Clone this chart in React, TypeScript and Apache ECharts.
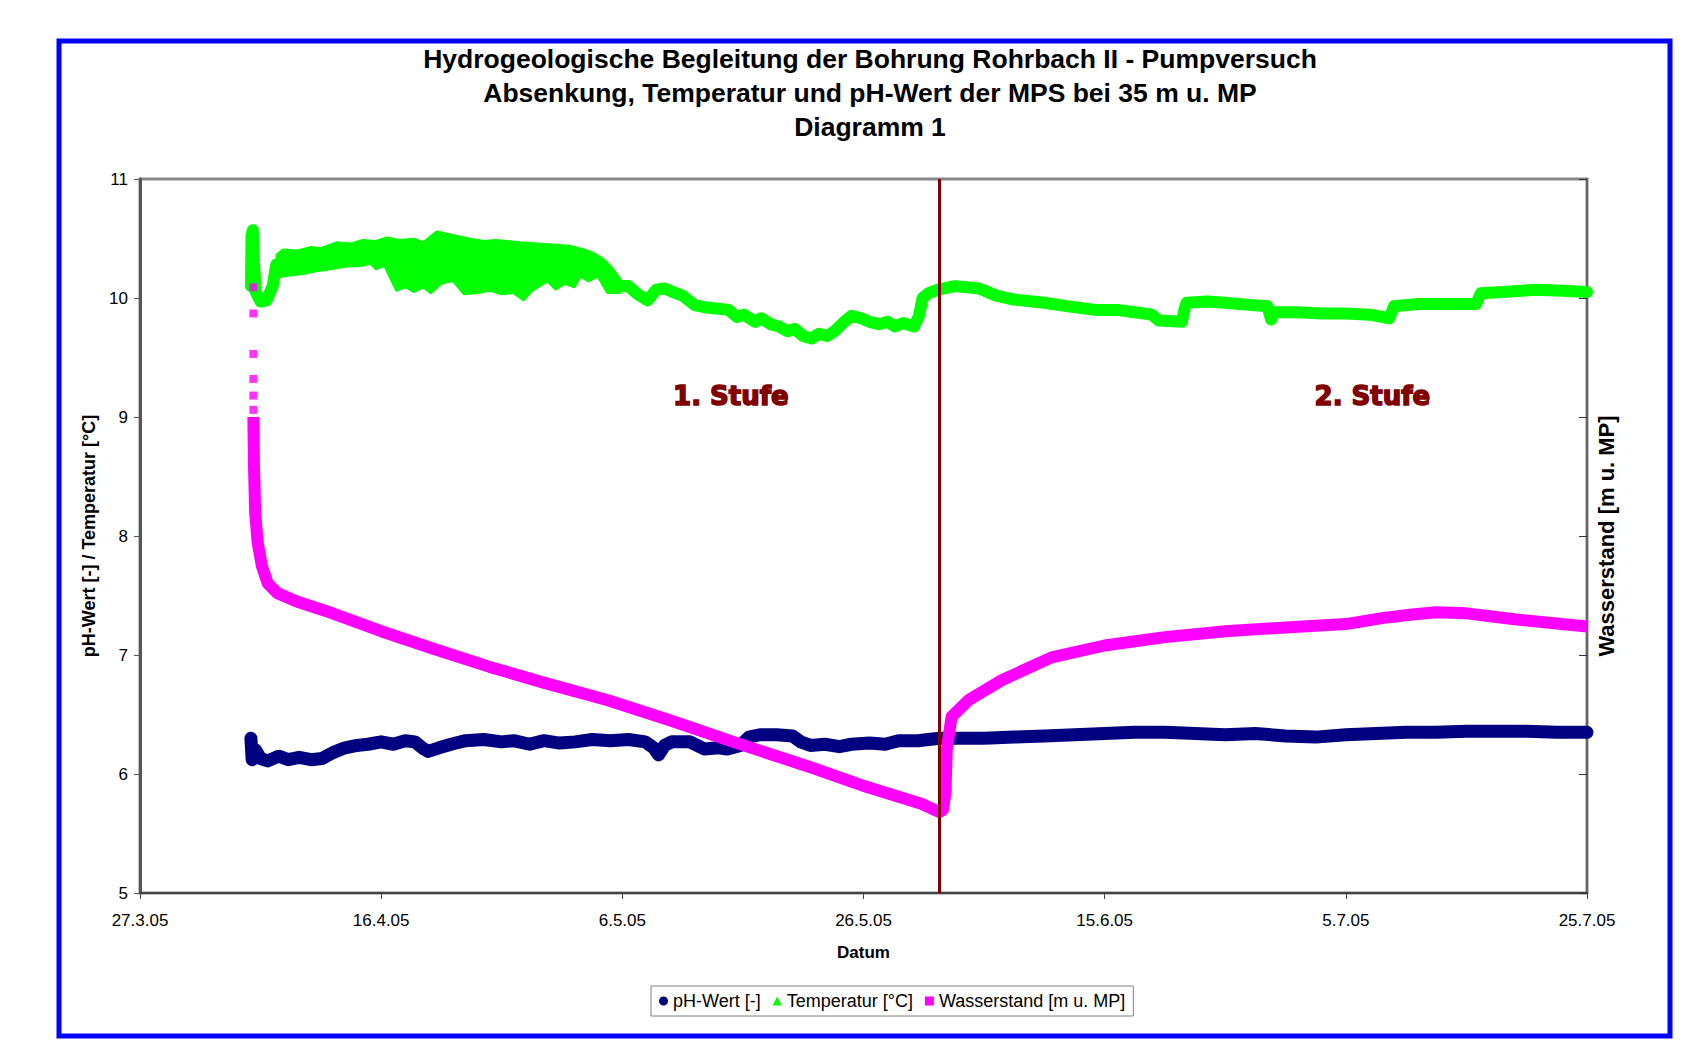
import React, { useEffect, useRef } from "react";
import * as echarts from "echarts";

// x values are days after 27.3.05
const xTickLabels = ["27.3.05", "16.4.05", "6.5.05", "26.5.05", "15.6.05", "5.7.05", "25.7.05"];

const phData: [number, number][] = [
  [9.2, 6.3], [9.3, 6.12], [9.6, 6.2], [10.0, 6.13], [10.6, 6.11], [11.5, 6.15], [12.3, 6.12],
  [13.2, 6.14], [14.2, 6.12], [15.1, 6.13], [16.0, 6.18], [17.0, 6.22], [18.0, 6.24], [18.9, 6.25],
  [20.0, 6.27], [21.0, 6.25], [22.0, 6.28], [22.8, 6.27], [23.4, 6.22], [23.9, 6.19], [24.8, 6.22],
  [25.8, 6.25], [27.0, 6.28], [28.5, 6.29], [30.0, 6.27], [31.0, 6.28], [32.3, 6.25], [33.5, 6.28],
  [34.8, 6.26], [36.1, 6.27], [37.5, 6.29], [39.0, 6.28], [40.5, 6.29], [41.9, 6.27], [42.6, 6.22],
  [43.0, 6.16], [43.5, 6.24], [44.1, 6.27], [45.6, 6.27], [46.2, 6.24], [46.8, 6.21], [48.0, 6.22],
  [48.7, 6.21], [49.8, 6.24], [50.5, 6.31], [51.4, 6.33], [52.8, 6.33], [54.1, 6.32], [54.8, 6.27],
  [55.6, 6.24], [56.8, 6.25], [58.0, 6.23], [59.0, 6.25], [60.5, 6.26], [61.8, 6.25], [62.9, 6.28],
  [64.5, 6.28], [66.3, 6.3], [68.0, 6.3], [70.0, 6.3], [72.5, 6.31], [75.0, 6.32], [77.5, 6.33],
  [80.0, 6.34], [82.5, 6.35], [85.0, 6.35], [87.5, 6.34], [90.0, 6.33], [92.5, 6.34], [95.0, 6.32],
  [97.5, 6.31], [100.0, 6.33], [102.5, 6.34], [105.0, 6.35], [107.5, 6.35], [110.0, 6.36],
  [112.5, 6.36], [115.0, 6.36], [117.5, 6.35], [120.0, 6.35],
];

const tempData: [number, number][] = [
  [9.2, 10.1], [9.25, 10.52], [9.35, 10.57], [9.45, 10.3], [9.6, 10.05], [10.0, 9.97], [10.5, 9.98],
  [11.0, 10.1], [11.3, 10.28], [11.9, 10.29], [16.3, 10.35], [20.5, 10.39], [24.6, 10.3], [27.4, 10.27],
  [31.5, 10.25], [35.7, 10.28], [38.4, 10.22], [39.5, 10.1], [40.5, 10.1], [41.3, 10.03],
  [42.1, 9.98], [42.8, 10.07], [43.5, 10.08], [44.2, 10.05], [45.0, 10.02], [46.0, 9.94], [47.0, 9.92],
  [48.0, 9.91], [48.8, 9.9], [49.5, 9.84], [50.1, 9.86], [51.0, 9.8], [51.5, 9.83], [52.3, 9.78],
  [53.0, 9.76], [53.7, 9.72], [54.3, 9.74], [55.0, 9.68], [55.7, 9.66], [56.3, 9.7], [57.0, 9.68],
  [57.6, 9.72], [58.4, 9.8], [59.0, 9.85], [59.8, 9.83], [60.5, 9.8], [61.3, 9.78], [62.0, 9.8],
  [62.6, 9.76], [63.3, 9.79], [64.2, 9.76], [64.6, 9.85], [64.9, 10.0], [65.4, 10.04], [66.2, 10.07],
  [67.6, 10.1], [69.6, 10.08], [71.0, 10.02], [72.3, 9.99], [74.0, 9.97], [75.0, 9.96], [77.0, 9.93],
  [79.2, 9.9], [81.0, 9.9], [82.5, 9.88], [83.9, 9.86], [84.5, 9.81], [86.4, 9.8], [86.6, 9.9],
  [86.8, 9.96], [88.5, 9.97], [90.0, 9.96], [92.2, 9.94], [93.5, 9.93], [93.8, 9.82], [94.1, 9.88],
  [96.0, 9.88], [98.0, 9.87], [100.0, 9.87], [102.0, 9.86], [103.6, 9.83], [104.0, 9.93], [106.0, 9.95],
  [108.0, 9.95], [110.8, 9.95], [111.2, 10.04], [113.0, 10.05], [115.8, 10.07], [118.0, 10.06], [120.0, 10.05],
];

// scatter band of the temperature readings in the first weeks (upper / lower edge)
const tempBandUpper: [number, number][] = [
  [11.4, 10.36], [11.9, 10.40], [13.0, 10.39], [14.2, 10.42], [15.0, 10.41], [16.3, 10.46], [17.5, 10.45],
  [18.5, 10.48], [19.5, 10.47], [20.5, 10.5], [21.5, 10.48], [22.7, 10.49], [23.5, 10.46], [24.6, 10.55],
  [26.0, 10.52], [27.4, 10.49], [28.5, 10.47], [29.5, 10.48], [31.5, 10.46], [33.0, 10.45], [34.5, 10.44],
  [35.7, 10.43], [36.8, 10.4], [37.6, 10.37], [38.4, 10.32], [39.0, 10.26], [39.8, 10.15],
];
const tempBandLower: [number, number][] = [
  [11.4, 10.18], [12.5, 10.2], [13.5, 10.21], [14.5, 10.23], [15.8, 10.25], [17.0, 10.27], [18.5, 10.28],
  [19.1, 10.3], [19.6, 10.25], [20.3, 10.28], [21.3, 10.07], [22.0, 10.1], [22.7, 10.06], [23.5, 10.1],
  [24.1, 10.05], [25.0, 10.13], [26.0, 10.15], [26.9, 10.04], [28.0, 10.05], [29.0, 10.07], [30.0, 10.04],
  [31.0, 10.05], [31.8, 9.99], [32.4, 10.06], [33.8, 10.15], [34.5, 10.08], [35.2, 10.13], [36.0, 10.1],
  [36.5, 10.19], [37.2, 10.15], [38.0, 10.19], [38.8, 10.05], [39.8, 10.05],
];

const levelStartPoints: [number, number][] = [
  [9.4, 10.09], [9.4, 9.87], [9.4, 9.53], [9.4, 9.32], [9.4, 9.18], [9.4, 9.06],
];

const levelData: [number, number][] = [
  [9.4, 9.0], [9.45, 8.6], [9.55, 8.2], [9.75, 7.95], [10.1, 7.75], [10.6, 7.6], [11.4, 7.52],
  [13.0, 7.45], [15.4, 7.37], [20.0, 7.2], [24.4, 7.05], [29.0, 6.9], [33.4, 6.77], [38.8, 6.62],
  [44.0, 6.45], [49.2, 6.27], [55.8, 6.05], [60.3, 5.89], [64.8, 5.75], [66.3, 5.68], [66.6, 5.7],
  [66.8, 5.85], [66.9, 6.2], [67.3, 6.48], [68.7, 6.62], [71.5, 6.79], [75.6, 6.98], [80.0, 7.08],
  [85.0, 7.15], [90.0, 7.2], [96.4, 7.24], [100.0, 7.26], [103.0, 7.31], [105.5, 7.34], [107.5, 7.36],
  [110.0, 7.35], [114.0, 7.3], [120.0, 7.24],
];

const stageChangeDay = 66.3;
const stageLabels: { text: string; coord: [number, number] }[] = [
  { text: "1. Stufe", coord: [49.0, 9.18] },
  { text: "2. Stufe", coord: [102.2, 9.18] },
];

const FONT = "'Liberation Sans', Arial, sans-serif";

export default function App() {
  const ref = useRef<HTMLDivElement>(null);
  useEffect(() => {
    document.body.style.margin = "0";
    if (!ref.current) return;
    const chart = echarts.init(ref.current, undefined, { renderer: "svg" });
    const lineBase = {
      type: "line" as const,
      showSymbol: false,
      symbol: "none",
      silent: true,
    };
    const bandPolygon: [number, number][] = [...tempBandUpper, ...tempBandLower.slice().reverse()];
    chart.setOption({
      animation: false,
      backgroundColor: "#ffffff",
      textStyle: { fontFamily: FONT },
      title: {
        text: "Hydrogeologische Begleitung der Bohrung Rohrbach II - Pumpversuch\nAbsenkung, Temperatur und pH-Wert der MPS bei 35 m u. MP\nDiagramm 1",
        left: 865,
        top: 37,
        textAlign: "center",
        textStyle: { fontSize: 26.5, fontWeight: "bold", color: "#000", lineHeight: 34, fontFamily: FONT },
      },
      legend: {
        left: 651,
        top: 986,
        orient: "horizontal",
        borderColor: "#808080",
        borderWidth: 1,
        padding: [6, 8],
        itemGap: 12,
        itemWidth: 9,
        itemHeight: 9,
        textStyle: { fontSize: 18, color: "#000", fontFamily: FONT },
        data: [
          { name: "pH-Wert [-]", icon: "circle" },
          { name: "Temperatur [°C]", icon: "triangle" },
          { name: "Wasserstand [m u. MP]", icon: "rect" },
        ],
      },
      grid: {
        left: 140,
        right: 112,
        top: 179,
        bottom: 151,
        show: true,
        borderColor: "#888",
        borderWidth: 3,
        backgroundColor: "#fff",
      },
      xAxis: {
        type: "value",
        min: 0,
        max: 120,
        interval: 20,
        name: "Datum",
        nameLocation: "middle",
        nameGap: 51,
        nameTextStyle: { fontSize: 17, fontWeight: "bold", color: "#000" },
        axisLine: { lineStyle: { color: "#444", width: 2 } },
        axisTick: { show: true, length: 6, lineStyle: { color: "#444" } },
        axisLabel: {
          fontSize: 17,
          color: "#000",
          margin: 19,
          formatter: (v: number) => xTickLabels[Math.round(v / 20)] ?? "",
        },
        splitLine: { show: false },
      },
      yAxis: [
        {
          type: "value",
          min: 5,
          max: 11,
          interval: 1,
          name: "pH-Wert [-] / Temperatur [°C]",
          nameLocation: "middle",
          nameGap: 42,
          nameTextStyle: { fontSize: 18, fontWeight: "bold", color: "#000" },
          axisLine: { show: true, lineStyle: { color: "#555", width: 3 } },
          axisTick: { show: true, length: 6, lineStyle: { color: "#555" } },
          axisLabel: { fontSize: 17, color: "#000", margin: 12 },
          splitLine: { show: false },
        },
        {
          type: "value",
          position: "right",
          min: 5,
          max: 11,
          interval: 1,
          name: "Wasserstand [m u. MP]",
          nameLocation: "middle",
          nameGap: 8,
          nameRotate: 90,
          nameTextStyle: { fontSize: 22, fontWeight: "bold", color: "#000", verticalAlign: "top" },
          axisLine: { show: true, lineStyle: { color: "#666", width: 2 } },
          axisTick: { show: true, inside: true, length: 8, lineStyle: { color: "#333" } },
          axisLabel: { show: false },
          splitLine: { show: false },
        },
      ],
      series: [
        {
          ...lineBase,
          name: "pH-Wert [-]",
          color: "#000080",
          lineStyle: { color: "#000080", width: 13, join: "round", cap: "round" },
          data: phData,
          z: 2,
        },
        {
          ...lineBase,
          name: "Temperatur [°C]",
          color: "#00ff00",
          lineStyle: { color: "#00ff00", width: 12, join: "round", cap: "round" },
          data: tempData,
          z: 3,
        },
        {
          type: "custom",
          name: "Temperatur [°C]",
          color: "#00ff00",
          silent: true,
          z: 3,
          data: bandPolygon,
          encode: { x: 0, y: 1 },
          renderItem: (params: any, api: any) => {
            if (params.dataIndex !== 0) return null;
            const pts = bandPolygon.map((p) => api.coord(p));
            return {
              type: "polygon",
              shape: { points: pts },
              style: { fill: "#00ff00", stroke: "#00ff00", lineWidth: 4, lineJoin: "round" },
            };
          },
        },
        {
          ...lineBase,
          name: "Wasserstand [m u. MP]",
          yAxisIndex: 1,
          color: "#ff00ff",
          lineStyle: { color: "#ff00ff", width: 12, join: "round", cap: "butt" },
          data: levelData,
          z: 4,
          markLine: {
            silent: true,
            symbol: "none",
            label: { show: false },
            lineStyle: { color: "#800000", width: 3, type: "solid" },
            data: [{ xAxis: stageChangeDay }],
            z: 10,
          },
          markPoint: {
            silent: true,
            symbol: "circle",
            symbolSize: 1,
            itemStyle: { color: "rgba(0,0,0,0)" },
            label: {
              show: true,
              position: "inside",
              fontFamily: "'DejaVu Sans', sans-serif",
              fontWeight: "bold",
              fontSize: 26,
              color: "#800000",
              textBorderColor: "#800000",
              textBorderWidth: 1.5,
              formatter: (p: any) => p.name,
            },
            data: stageLabels.map((s) => ({ name: s.text, coord: s.coord })),
          },
        },
        {
          type: "scatter",
          name: "Wasserstand [m u. MP]",
          yAxisIndex: 1,
          color: "#ff00ff",
          symbol: "rect",
          symbolSize: 8,
          silent: true,
          data: levelStartPoints,
          z: 4,
        },
      ],
      graphic: [
        {
          type: "rect",
          shape: { x: 59, y: 41, width: 1611, height: 995 },
          style: { fill: "none", stroke: "#0000ff", lineWidth: 5 },
          silent: true,
          z: 100,
        },
      ],
    });
    return () => chart.dispose();
  }, []);
  return <div ref={ref} style={{ width: 1699, height: 1044 }} />;
}
